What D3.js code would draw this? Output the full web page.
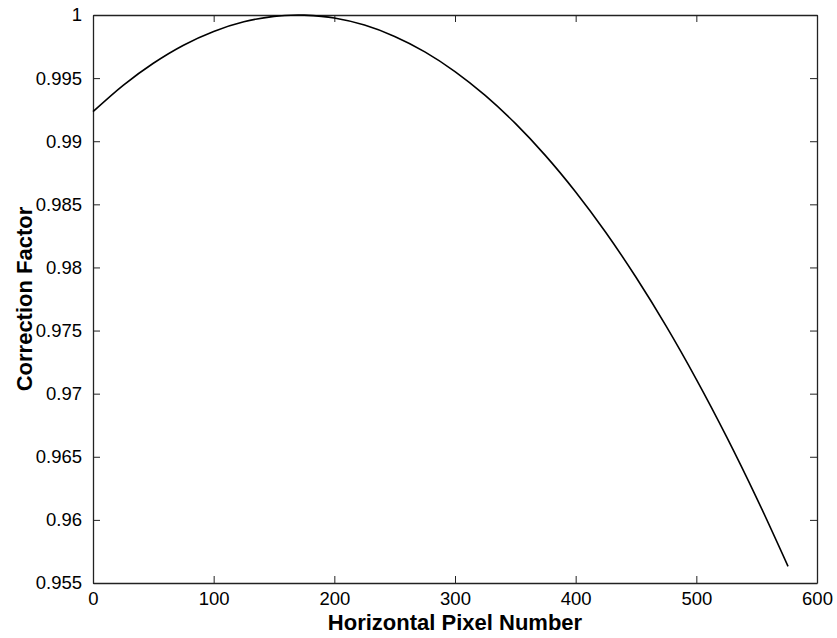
<!DOCTYPE html>
<html>
<head>
<meta charset="utf-8">
<script src="https://cdn.jsdelivr.net/npm/d3@7"></script>
<style>
  body { margin: 0; background: #fff; }
  text { font-family: 'Liberation Sans', Arial, sans-serif; fill: #000; }
</style>
</head>
<body>
<div id="chart"></div>
<script>
// pixel positions along the detector and the correction
var pixels = [0, 25, 50, 75, 100, 125, 150, 170, 175, 200, 225, 250, 275, 300, 325, 350, 375, 400, 425, 450, 475, 500, 525, 550, 576]
var factors = [0.99234, 0.99443, 0.99618, 0.99761, 0.99870, 0.99946, 0.99989, 1.00000, 0.99999, 0.99976, 0.99920, 0.99830, 0.99708, 0.99552, 0.99363, 0.99141, 0.98886, 0.98598, 0.98277, 0.97922, 0.97535, 0.97114, 0.96660, 0.96173, 0.95632]

var xTicks = [0, 100, 200, 300, 400, 500, 600]
var yTicks = [0.955, 0.96, 0.965, 0.97, 0.975, 0.98, 0.985, 0.99, 0.995, 1]

var W = 837
var H = 638
var margin = {top: 15, right: 20, bottom: 55, left: 93}
var width = W - margin.left - margin.right
var height = H - margin.top - margin.bottom

var svg = d3.select('#chart')
  .append('svg')
  .attr('width', W)
  .attr('height', H)

var g = svg.append('g')
  .attr('transform', 'translate(' + margin.left + ',' + margin.top + ')')

var x = d3.scaleLinear().domain([0, 600]).range([0, width])
var y = d3.scaleLinear().domain([0.955, 1]).range([height, 0])

var fmtY = (d) => { return d3.format('')(+d.toFixed(3)) }

function styleAxis (sel) {
  sel.selectAll('path.domain').attr('stroke', '#222').attr('stroke-width', 1.3)
  sel.selectAll('.tick line').attr('stroke', '#222').attr('stroke-width', 1)
  sel.selectAll('.tick text')
    .style('font-family', "'Liberation Sans', Arial, sans-serif")
    .style('font-size', '18.5px')
    .attr('fill', '#000')
}

// bottom axis, ticks pointing in
g.append('g')
  .attr('transform', 'translate(0,' + height + ')')
  .call(d3.axisBottom(x).tickValues(xTicks).tickSizeInner(-7).tickSizeOuter(0).tickPadding(9))
  .call(styleAxis)

// top axis, no labels
g.append('g')
  .call(d3.axisTop(x).tickValues(xTicks).tickSizeInner(-7).tickSizeOuter(0).tickFormat(''))
  .call(styleAxis)

// left axis
g.append('g')
  .call(d3.axisLeft(y).tickValues(yTicks).tickSizeInner(-7).tickSizeOuter(0).tickPadding(11).tickFormat(fmtY))
  .call(styleAxis)

// right axis
g.append('g')
  .attr('transform', 'translate(' + width + ',0)')
  .call(d3.axisRight(y).tickValues(yTicks).tickSizeInner(-7).tickSizeOuter(0).tickFormat(''))
  .call(styleAxis)

var line = d3.line()
  .x((d, i) => { return x(pixels[i]) })
  .y((d) => { return y(d) })
  .curve(d3.curveCatmullRom)

g.append('path')
  .datum(factors)
  .attr('fill', 'none')
  .attr('stroke', '#000')
  .attr('stroke-width', 1.6)
  .attr('d', line)

svg.append('text')
  .attr('x', margin.left + width / 2)
  .attr('y', 630)
  .attr('text-anchor', 'middle')
  .style('font-size', '22px')
  .style('font-weight', 'bold')
  .text('Horizontal Pixel Number')

svg.append('text')
  .attr('transform', 'translate(32,' + (margin.top + height / 2) + ') rotate(-90)')
  .attr('text-anchor', 'middle')
  .style('font-size', '22px')
  .style('font-weight', 'bold')
  .text('Correction Factor')
</script>
</body>
</html>
